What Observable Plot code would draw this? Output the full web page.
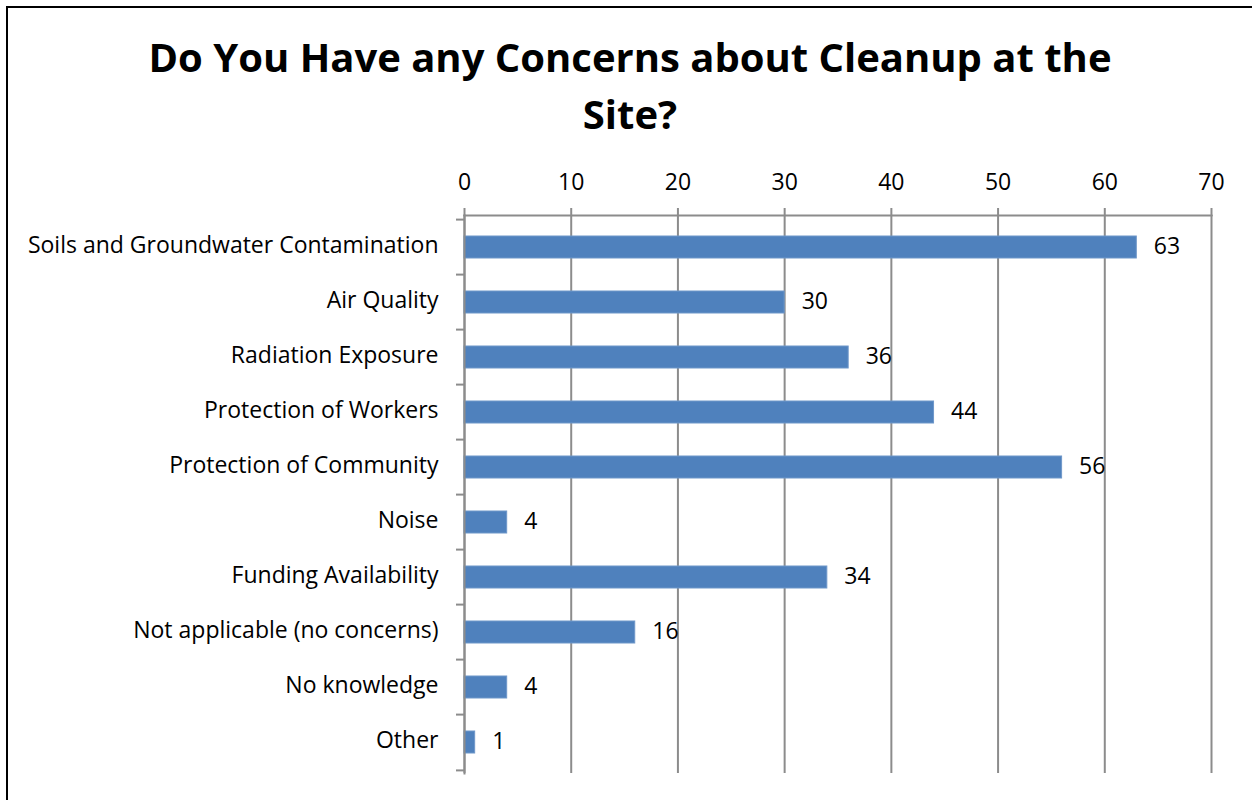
<!DOCTYPE html>
<html>
<head>
<meta charset="utf-8">
<script src="https://cdn.jsdelivr.net/npm/d3@7"></script>
<script src="https://cdn.jsdelivr.net/npm/@observablehq/plot@0.6"></script>
<style>
  html, body { margin: 0; padding: 0; background: #fff; }
  #wrap { position: relative; width: 1252px; height: 800px; overflow: hidden; font-family: "Open Sans", sans-serif; }
  #frame { position: absolute; left: 6px; top: 6px; width: 1400px; height: 1000px; border: 2px solid #000; box-sizing: border-box; pointer-events: none; }
  #title { position: absolute; left: 8px; top: 0; width: 1244px; height: 150px; text-align: center; font-weight: 700; font-size: 40px; line-height: 57px; padding-top: 28px; box-sizing: border-box; color: #000; }
  #chart { position: absolute; left: 0; top: 150px; }
</style>
</head>
<body>
<div id="wrap">
  <div id="frame"></div>
  <div id="title">Do You Have any Concerns about Cleanup at the<br>Site?</div>
  <div id="chart"></div>
</div>
<script>
const categories = [
  "Soils and Groundwater Contamination",
  "Air Quality",
  "Radiation Exposure",
  "Protection of Workers",
  "Protection of Community",
  "Noise",
  "Funding Availability",
  "Not applicable (no concerns)",
  "No knowledge",
  "Other"
];
const counts = [63, 30, 36, 44, 56, 4, 34, 16, 4, 1];
const xTicks = [0, 10, 20, 30, 40, 50, 60, 70];

const data = categories.map((c, i) => ({category: c, count: counts[i]}));

const W = 1252, H = 650;
const mTop = 65, mBottom = 27, mLeft = 464, mRight = 41;
const step = (H - mTop - mBottom) / categories.length;
const gray = "#8c8c8c";
const fontSize = 23;
const pxPerUnit = (W - mLeft - mRight) / 70;
const tickLen = 8 / pxPerUnit;

const boundaries = categories.map((c, i) => ({category: c, off: -step / 2}))
  .concat([{category: categories[categories.length - 1], off: step / 2}]);

const chart = Plot.plot({
  width: W,
  height: H,
  marginTop: mTop,
  marginBottom: mBottom,
  marginLeft: mLeft,
  marginRight: mRight,
  style: {fontFamily: "'Open Sans', sans-serif", fontSize: fontSize + "px", color: "#000", background: "transparent", overflow: "visible"},
  x: {type: "linear", domain: [0, 70], ticks: xTicks, axis: null, label: null},
  y: {type: "band", domain: categories, paddingInner: 0.6, paddingOuter: 0.3, axis: null, label: null},
  marks: [
    Plot.gridX(xTicks, {stroke: gray, strokeOpacity: 1, strokeWidth: 2}),
    Plot.barX(data, {x: "count", y: "category", fill: "#4F81BD", stroke: "#6f97c9", strokeWidth: 1}),
    Plot.frame({anchor: "top", stroke: gray, strokeWidth: 2}),
    Plot.frame({anchor: "left", stroke: gray, strokeWidth: 2}),
    Plot.axisX(xTicks, {anchor: "top", label: null, tickSize: 8, tickPadding: 18, stroke: gray, strokeWidth: 2, strokeOpacity: 1, fontSize: fontSize, fill: "#000", tickFormat: d => String(d)}),
    ...boundaries.map(b => Plot.ruleY([b], {y: "category", dy: b.off, x1: -tickLen, x2: 0, stroke: gray, strokeWidth: 2, clip: false})),
    Plot.axisY({anchor: "left", label: null, tickSize: 0, tickPadding: 26, dy: -2, fontSize: fontSize, fill: "#000"}),
    Plot.text(data, {x: "count", y: "category", text: d => String(d.count), dx: 17, dy: -1, textAnchor: "start", fontSize: fontSize, fill: "#000"})
  ]
});
document.getElementById("chart").appendChild(chart);
</script>
</body>
</html>
